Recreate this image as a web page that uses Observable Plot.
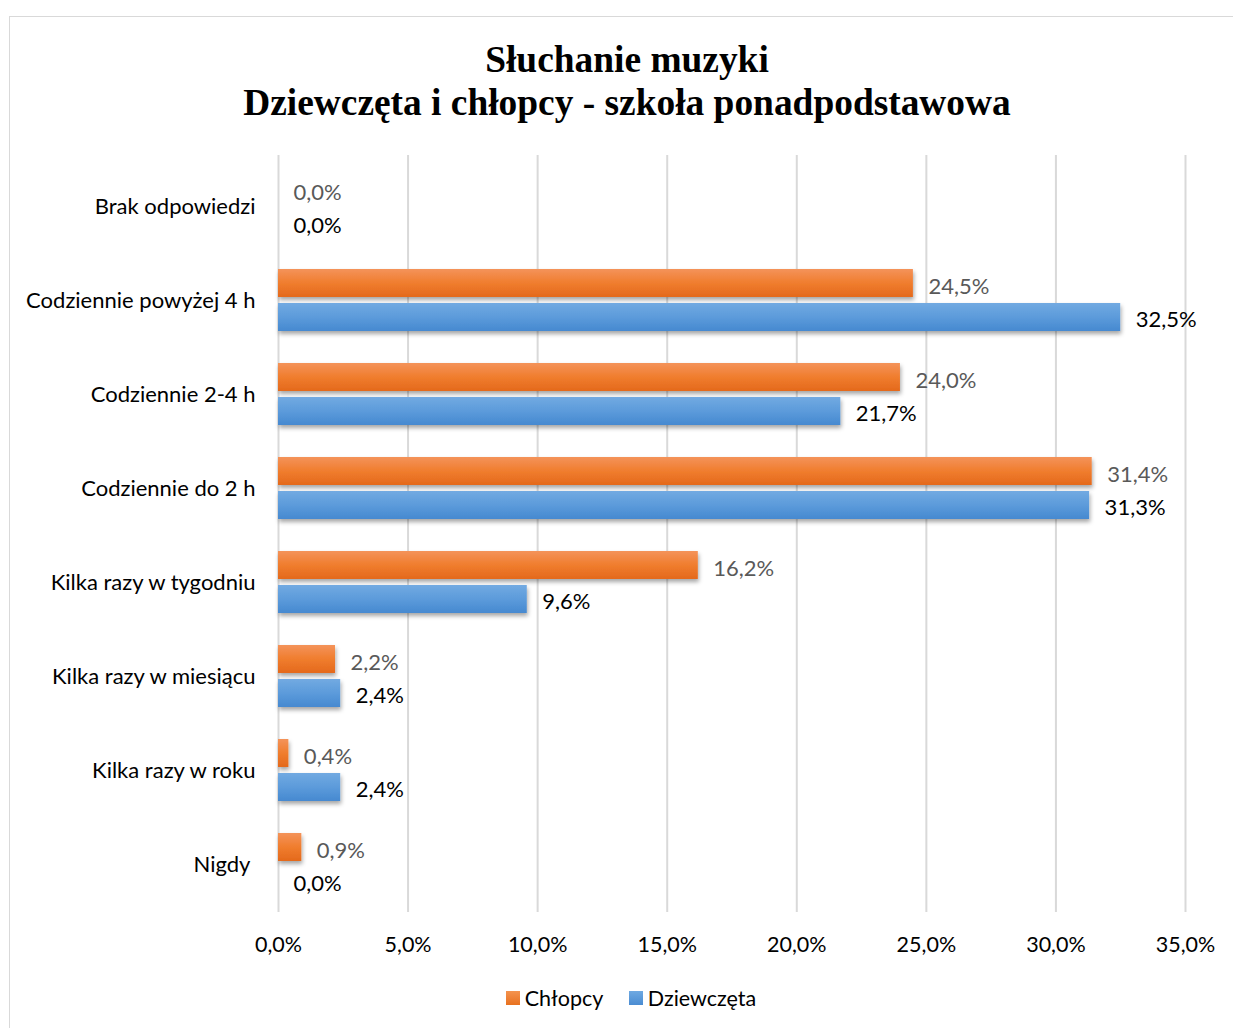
<!DOCTYPE html>
<html>
<head>
<meta charset="utf-8">
<script src="https://cdn.jsdelivr.net/npm/d3@7"></script>
<script src="https://cdn.jsdelivr.net/npm/@observablehq/plot@0.6"></script>
<style>
  html, body { margin: 0; padding: 0; background: #fff; }
  body { width: 1233px; height: 1028px; position: relative; overflow: hidden; font-family: Lato, "Open Sans", sans-serif; }
  #frame { position: absolute; left: 9px; top: 16px; width: 1240px; height: 1040px; border: 1px solid #d9d9d9; box-sizing: border-box; }
  #title { position: absolute; left: 0; top: 38px; width: 1254px; text-align: center; font-family: "Liberation Serif", "Times New Roman", serif; font-weight: bold; font-size: 37.4px; line-height: 43px; color: #000; }
  #chart { position: absolute; left: 0; top: 140px; }
  #legend { position: absolute; top: 984px; left: 0; width: 1262px; text-align: center; font-size: 21.5px; color: #000; }
  #legend span.item { display: inline-flex; align-items: center; margin: 0 10px; }
  #legend span.sw { display: inline-block; width: 14px; height: 14px; margin-right: 5px; }
</style>
</head>
<body>
<div id="frame"></div>
<div id="title">Słuchanie muzyki<br>Dziewczęta i chłopcy - szkoła ponadpodstawowa</div>
<div id="chart"></div>
<div id="legend">
  <span class="item"><span class="sw" style="background:linear-gradient(#f4934f,#e8711f)"></span>Chłopcy</span>
  <span class="item"><span class="sw" style="background:linear-gradient(#6ea9e2,#4a8cd2)"></span>Dziewczęta</span>
</div>
<script>
const categories = ["Brak odpowiedzi", "Codziennie powyżej 4 h", "Codziennie 2-4 h", "Codziennie do 2 h", "Kilka razy w tygodniu", "Kilka razy w miesiącu", "Kilka razy w roku", "Nigdy "];
const chlopcy = [0.0, 24.5, 24.0, 31.4, 16.2, 2.2, 0.4, 0.9];
const dziewczeta = [0.0, 32.5, 21.7, 31.3, 9.6, 2.4, 2.4, 0.0];
const xTicks = [0, 5, 10, 15, 20, 25, 30, 35];

const dataC = categories.map((c, i) => ({category: c, value: chlopcy[i]}));
const dataD = categories.map((c, i) => ({category: c, value: dziewczeta[i]}));
const fmt = v => v.toFixed(1).replace(".", ",") + "%";

const plot = Plot.plot({
  width: 1233,
  height: 827,
  marginTop: 15,
  marginBottom: 55,
  marginLeft: 278,
  marginRight: 48,
  style: {fontFamily: "Lato, 'Open Sans', sans-serif", fontSize: "21.5px", color: "#000", background: "transparent"},
  x: {domain: [0, 35], ticks: xTicks, tickFormat: fmt, label: null},
  y: {domain: categories, padding: 0, label: null},
  marks: [
    Plot.gridX(xTicks, {stroke: "#d9d9d9", strokeOpacity: 1, strokeWidth: 2}),
    Plot.axisX({ticks: xTicks, tickFormat: fmt, tickSize: 0, tickPadding: 24, fontSize: 21.5, fill: "#000"}),
    Plot.axisY({tickSize: 0, tickPadding: 23, fontSize: 22, fill: "#000", dy: 1}),
    Plot.barX(dataC, {x: "value", y: "category", fill: "#ed7d31", insetTop: 17, insetBottom: 49}),
    Plot.barX(dataD, {x: "value", y: "category", fill: "#5b9bd5", insetTop: 51, insetBottom: 15}),
    Plot.text(dataC, {x: "value", y: "category", text: d => fmt(d.value), textAnchor: "start", dx: 15, dy: -13, fill: "#595959", fontSize: 22}),
    Plot.text(dataD, {x: "value", y: "category", text: d => fmt(d.value), textAnchor: "start", dx: 15, dy: 20, fill: "#000", fontSize: 22})
  ]
});

const svgNS = "http://www.w3.org/2000/svg";
const defs = document.createElementNS(svgNS, "defs");
defs.innerHTML = `
  <linearGradient id="gOrange" x1="0" y1="0" x2="0" y2="1">
    <stop offset="0" stop-color="#f4935a"/>
    <stop offset="0.5" stop-color="#f07d2e"/>
    <stop offset="1" stop-color="#e4691c"/>
  </linearGradient>
  <linearGradient id="gBlue" x1="0" y1="0" x2="0" y2="1">
    <stop offset="0" stop-color="#72aae2"/>
    <stop offset="0.5" stop-color="#5c9bdb"/>
    <stop offset="1" stop-color="#4689d0"/>
  </linearGradient>
  <filter id="shadow" x="-5%" y="-30%" width="110%" height="170%">
    <feDropShadow dx="1" dy="3" stdDeviation="2" flood-color="#000" flood-opacity="0.35"/>
  </filter>`;
plot.insertBefore(defs, plot.firstChild);
const bars = plot.querySelectorAll('g[aria-label="bar"]');
if (bars[0]) { bars[0].setAttribute("fill", "url(#gOrange)"); bars[0].setAttribute("filter", "url(#shadow)"); }
if (bars[1]) { bars[1].setAttribute("fill", "url(#gBlue)"); bars[1].setAttribute("filter", "url(#shadow)"); }

document.getElementById("chart").appendChild(plot);
</script>
</body>
</html>
